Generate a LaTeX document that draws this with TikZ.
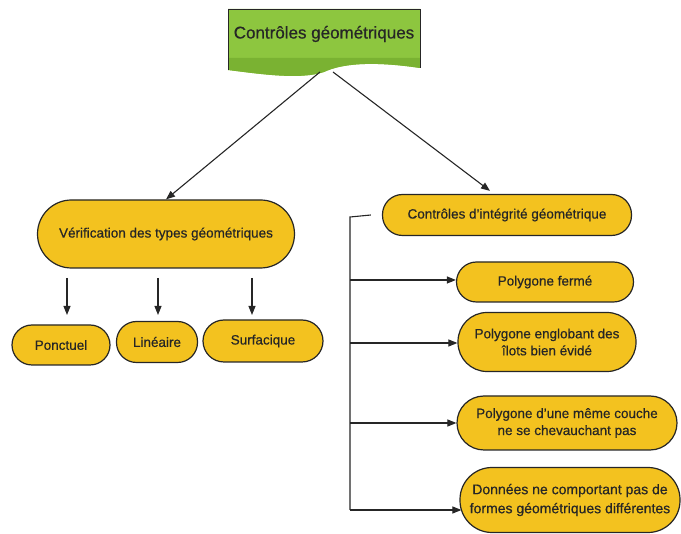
\documentclass[tikz,border=0pt]{standalone}
\usepackage{fontspec}
\setmainfont[FakeBold=0.5]{Liberation Sans}
\usetikzlibrary{arrows.meta}
\definecolor{gold}{HTML}{F3C21F}
\definecolor{leaf}{HTML}{8DC63F}
\definecolor{leafdark}{HTML}{7AB232}
\definecolor{ink}{HTML}{262626}
\tikzset{
  pill/.style={draw=ink, line width=1.2pt, fill=gold, rounded corners=#1, align=center,
    font=\fontsize{13.5}{17}\selectfont, text=ink, inner sep=0pt},
  pill/.default=18pt,
  link/.style={draw=ink, line width=1.1pt, -{Triangle[length=9pt,width=7pt]}},
}
\begin{document}
\begin{tikzpicture}[x=1pt,y=-1pt]
\useasboundingbox (0,0) rectangle (681,534);

% title as a document shape with a wavy base
\fill[leaf] (228,9) -- (420,9) -- (420,68)
  .. controls (380,62) and (345,62) .. (324,72)
  .. controls (300,80) and (260,74) .. (228,70) -- cycle;
\fill[leafdark] (228,58) -- (420,58) -- (420,68)
  .. controls (380,62) and (345,62) .. (324,72)
  .. controls (300,80) and (260,74) .. (228,70) -- cycle;
\draw[ink, line width=0.8pt] (228,70) -- (228,9) -- (420,9) -- (420,68);
\node[text=ink] (title) at (324,34) {\fontsize{17}{20}\selectfont Contrôles géométriques};
\coordinate (tl) at (320,72);
\coordinate (tr) at (333,72);

% left branch
\node[pill=34pt, minimum width=257pt, minimum height=68pt] (verif) at (166,234)
  {Vérification des types géométriques};
\node[pill=20pt, minimum width=98pt, minimum height=40pt] (ponc) at (61,345) {Ponctuel};
\node[pill=20pt, minimum width=81pt, minimum height=41pt] (lin) at (157,342) {Linéaire};
\node[pill=21pt, minimum width=120pt, minimum height=42pt] (surf) at (263,341) {Surfacique};

% right branch
\node[pill=20pt, minimum width=249pt, minimum height=41pt] (integ) at (507,215)
  {Contrôles d'intégrité géométrique};
\node[pill=20pt, minimum width=177pt, minimum height=40pt] (ferme) at (545,282) {Polygone fermé};
\node[pill=29pt, minimum width=178pt, minimum height=59pt] (englob) at (547,342)
  {Polygone englobant des\\ îlots bien évidé};
\node[pill=27pt, minimum width=220pt, minimum height=54pt] (couche) at (567,423)
  {Polygone d'une même couche\\ ne se chevauchant pas};
\node[pill=32pt, minimum width=220pt, minimum height=65pt, font=\fontsize{14}{19}\selectfont] (donnees) at (570,500)
  {Données ne comportant pas de\\ formes géométriques différentes};

% connectors from the title
\draw[link] (tl) -- (verif.north);
\draw[link] (tr) -- ([xshift=-17pt,yshift=3pt]integ.north);

% arrows to the geometry types
\draw[link] (67,278) -- (67,315);
\draw[link] (158,278) -- (158,315);
\draw[link] (252,278) -- (252,315);

% bracket feeding the integrity checks
\coordinate (spine) at (350,217);
\draw[ink, line width=1.1pt] ([xshift=-11pt]integ.west) -- (spine) -- (350,510);
\draw[link] (350,280) -- (ferme.west |- 0,280);
\draw[link] (350,343) -- (englob.west |- 0,343);
\draw[link] (350,423) -- (couche.west |- 0,423);
\draw[link] (350,510) -- ([xshift=2pt]donnees.west |- 0,510);
\end{tikzpicture}
\end{document}
